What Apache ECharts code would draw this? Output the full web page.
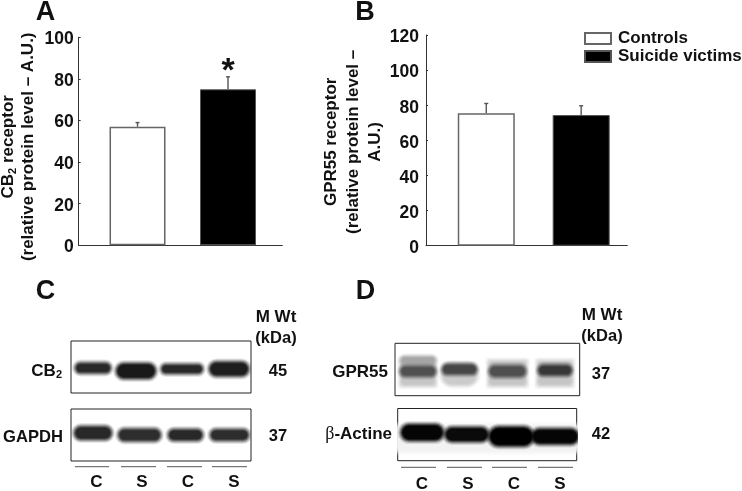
<!DOCTYPE html>
<html><head><meta charset="utf-8">
<style>html,body{margin:0;padding:0;background:#fff}#c{width:742px;height:491px}</style>
<script src="https://cdn.jsdelivr.net/npm/echarts@6/dist/echarts.min.js"></script>
</head><body><div id="c"></div>
<script>
// Panel A / B values
const groups = ['Controls', 'Suicide victims'];
const cb2Means = [57, 75];
const cb2Upper = [59, 81];
const gpr55Means = [75.4, 74.4];
const gpr55Upper = [81, 79.7];
const cb2Ticks = [0, 100, 20];
const gpr55Ticks = [0, 120, 20];
// Blot bands: [laneStart, laneEnd, centre, thickness, grey level]
const cb2Bands = [[6,38,27,7,40],[47,83,30,12,25],[92,130,28,6,40],[140,176,28,11,30]];
const gapdhBands = [[5,39,24,10,40],[49,88,26,9,45],[99,130,26,8,40],[141,176,26,8,45]];
const gpr55Bands = [[7,39,29,24,198],[48,81,31,19,203],[95,130,30,22,198],[144,176,30,22,198],
                    [8,38,17,4,165],[7,39,28,7,80],[49,80,26,7,70],[96,129,28,8,80],[145,175,27,7,55]];
const actinBands = [[0,179,30,24,242],[5,44,24,13,5],[49,89,26,11,10],[93,134,28,16,0],[136,179,28,12,5]];
const laneLabels = ['C', 'S', 'C', 'S'];

const FONT = '"Liberation Sans", Arial, sans-serif';
const INK = '#111';

const halo = [[5, 0.12], [4, 0.18], [3, 0.28], [2, 0.42], [1, 0.65], [0, 1]];
function bandRender(params, api) {
  const p0 = api.coord([api.value(0), api.value(2) - api.value(3) / 2]);
  const p1 = api.coord([api.value(1), api.value(2) + api.value(3) / 2]);
  const g = api.value(4), col = 'rgb(' + g + ',' + g + ',' + g + ')';
  const w = p1[0] - p0[0], h = p1[1] - p0[1];
  return { type: 'group', children: halo.map(([d, o]) => ({
    type: 'rect',
    shape: { x: p0[0] - d, y: p0[1] - d, width: w + 2 * d, height: h + 2 * d, r: (h > 20 ? 4 : h / 2 + d) },
    style: { fill: col, opacity: o }
  })) };
}
function errRender(params, api) {
  const a = api.coord([api.value(0), api.value(1)]);
  const b = api.coord([api.value(0), api.value(2)]);
  const st = { stroke: '#555', lineWidth: 1.4 };
  return { type: 'group', children: [
    { type: 'line', shape: { x1: a[0], y1: a[1], x2: b[0], y2: b[1] }, style: st },
    { type: 'line', shape: { x1: b[0] - 2, y1: b[1], x2: b[0] + 2, y2: b[1] }, style: st }
  ]};
}

const barGrids = [
  { left: 78.7, top: 37.3, width: 203.6, height: 208 },
  { left: 426, top: 35, width: 201.3, height: 210.7 }
];
const blotGrids = [
  { left: 71, top: 341, width: 180, height: 52 },
  { left: 71, top: 409, width: 180, height: 52 },
  { left: 395, top: 343.3, width: 184.7, height: 52.4 },
  { left: 397.7, top: 408.5, width: 179, height: 52.2 }
];
const blotData = [cb2Bands, gapdhBands, gpr55Bands, actinBands];

function barX(i, min, max) {
  return { type: 'value', gridIndex: i, min: min, max: max, splitLine: { show: false },
    axisTick: { show: false }, axisLabel: { show: false },
    axisLine: { show: true, onZero: false, lineStyle: { color: '#333', width: 1 } } };
}
function barY(i, t, name, gap, rich, pad, margin, lh) {
  return { type: 'value', gridIndex: i, min: t[0], max: t[1], interval: t[2], splitLine: { show: false },
    name: name, nameLocation: 'middle', nameGap: gap,
    nameTextStyle: { rich: rich, padding: pad, fontFamily: FONT, fontWeight: 'bold', color: INK },
    axisLine: { show: true, onZero: false, lineStyle: { color: '#333', width: 1 } },
    axisTick: { show: true, inside: true, length: 2, lineStyle: { color: '#333' } },
    axisLabel: { color: INK, fontFamily: FONT, fontWeight: 'bold', fontSize: 17.5, margin: margin,
      verticalAlign: 'top', lineHeight: lh } };
}
const richA = {
  a: { fontFamily: FONT, fontWeight: 'bold', fontSize: 17, color: INK, lineHeight: 20 },
  s: { fontFamily: FONT, fontWeight: 'bold', fontSize: 11, color: INK, lineHeight: 10, verticalAlign: 'bottom' }
};
const richB = { a: { fontFamily: FONT, fontWeight: 'bold', fontSize: 17, color: INK, lineHeight: 22 } };

const xAxes = [barX(0, 0.35, 2.6), barX(1, 0.365, 2.486)];
const yAxes = [
  barY(0, cb2Ticks, '{a|CB}{s|2}{a| receptor}\n{a|(relative protein level \u2013 A.U.)}', 40, richA, [0, 11, 0, 0], 5, 4),
  barY(1, gpr55Ticks, '{a|GPR55 receptor}\n{a|(relative protein level \u2013}\n{a|A.U.)}', 40, richB, [0, 3, 0, 0], 7, 5)
];
blotGrids.forEach((g, i) => {
  xAxes.push({ type: 'value', gridIndex: i + 2, min: 0, max: g.width, show: false });
  yAxes.push({ type: 'value', gridIndex: i + 2, min: 0, max: g.height, inverse: true, show: false });
});

const series = [];
[[cb2Means, cb2Upper, 56, 0], [gpr55Means, gpr55Upper, 57, 1]].forEach(([m, u, w, i]) => {
  series.push({ name: groups[0], type: 'bar', xAxisIndex: i, yAxisIndex: i, barWidth: w, barGap: '-100%',
    data: [[1, m[0]]], itemStyle: { color: '#fff', borderColor: '#666', borderWidth: 1.5 }, z: 2 });
  series.push({ name: groups[1], type: 'bar', xAxisIndex: i, yAxisIndex: i, barWidth: w, barGap: '-100%',
    data: [[2, m[1]]], itemStyle: { color: '#000', borderColor: '#555', borderWidth: 1 }, z: 2 });
  series.push({ type: 'custom', xAxisIndex: i, yAxisIndex: i, renderItem: errRender, z: 1, silent: true,
    data: m.map((v, k) => [k + 1, v, u[k]]) });
});
blotData.forEach((d, i) => {
  series.push({ type: 'custom', xAxisIndex: i + 2, yAxisIndex: i + 2, renderItem: bandRender, clip: true, silent: true, data: d });
});

function txt(t, x, y, size, align) {
  return { type: 'text', x: x, y: y, silent: true,
    style: { text: t, fontFamily: FONT, fontWeight: 'bold', fontSize: size, fill: INK,
      textAlign: align || 'center', textVerticalAlign: 'middle' } };
}
function line(x1, x2, y) {
  return { type: 'line', silent: true, shape: { x1: x1, y1: y, x2: x2, y2: y }, style: { stroke: '#555', lineWidth: 1 } };
}
const graphics = [
  txt('A', 45.5, 13, 27), txt('B', 365, 13, 27), txt('C', 45.5, 292, 27), txt('D', 365.5, 292, 27),
  txt('*', 228, 72, 34),
  txt('M Wt', 276, 317, 17), txt('(kDa)', 276, 338, 16.5),
  txt('M Wt', 602, 315, 17), txt('(kDa)', 602, 336, 16.5),
  txt('45', 278, 371, 16.5), txt('37', 278, 436, 16.5), txt('37', 601, 374, 16.5), txt('42', 601, 434, 16.5),
  { type: 'text', x: 62, y: 371, silent: true, style: { text: '{a|CB}{s|2}', align: 'right', verticalAlign: 'middle',
      rich: { a: { fontFamily: FONT, fontWeight: 'bold', fontSize: 17, fill: INK, lineHeight: 18 },
              s: { fontFamily: FONT, fontWeight: 'bold', fontSize: 11, fill: INK, lineHeight: 10, verticalAlign: 'bottom' } } } },
  txt('GAPDH', 63, 437, 16.6, 'right'),
  txt('GPR55', 388, 372, 17, 'right'),
  { type: 'text', x: 392, y: 434, silent: true, style: { text: '{b|\u03b2}{a|-Actine}', align: 'right', verticalAlign: 'middle',
      rich: { a: { fontFamily: FONT, fontWeight: 'bold', fontSize: 17, fill: INK },
              b: { fontFamily: '"Liberation Serif", serif', fontSize: 18, fill: INK } } } }
];
[[75,109],[121,156],[167,202],[212,247]].forEach(l => graphics.push(line(l[0], l[1], 466.7)));
[[401,436],[447,482],[492,527],[538,573]].forEach(l => graphics.push(line(l[0], l[1], 467.3)));
[96.3,142,188,234].forEach((x, i) => graphics.push(txt(laneLabels[i], x, 482, 17)));
[422,468,514,560].forEach((x, i) => graphics.push(txt(laneLabels[i], x, 484, 17)));

const chart = echarts.init(document.getElementById('c'), null, { renderer: 'canvas' });
chart.setOption({
  animation: false,
  backgroundColor: '#fff',
  grid: barGrids.map(g => Object.assign({ outerBoundsMode: 'none' }, g))
    .concat(blotGrids.map(g => Object.assign({ outerBoundsMode: 'none', show: true, borderColor: '#222', borderWidth: 1, backgroundColor: '#fff' }, g))),
  xAxis: xAxes, yAxis: yAxes,
  legend: { data: groups, orient: 'vertical', left: 584, top: 30, itemWidth: 26, itemHeight: 11, itemGap: 1,
    icon: 'rect', selectedMode: false, padding: 0,
    textStyle: { fontFamily: FONT, fontWeight: 'bold', fontSize: 17, color: INK, padding: [0, 0, 0, 2] } },
  series: series,
  graphic: graphics
});
</script></body></html>
